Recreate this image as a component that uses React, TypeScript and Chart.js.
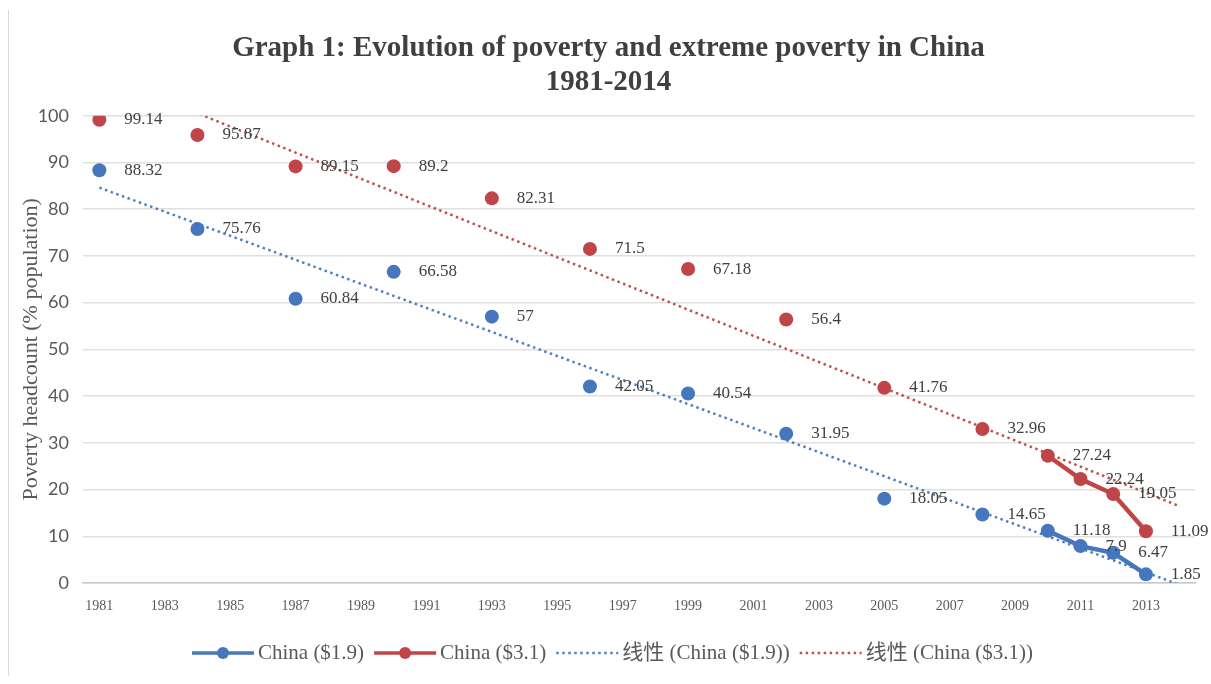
import React, { useEffect, useRef } from "react";
import { Chart, registerables } from "chart.js";

Chart.register(...registerables);

// ---- Data ----
const YEARS = [1981, 1984, 1987, 1990, 1993, 1996, 1999, 2002, 2005, 2008, 2010, 2011, 2012, 2013];
const POVERTY_190 = [88.32, 75.76, 60.84, 66.58, 57, 42.05, 40.54, 31.95, 18.05, 14.65, 11.18, 7.9, 6.47, 1.85];
const POVERTY_310 = [99.14, 95.87, 89.15, 89.2, 82.31, 71.5, 67.18, 56.4, 41.76, 32.96, 27.24, 22.24, 19.05, 11.09];
const TREND_YEARS = [1981, 2014];
const TREND_190 = [84.6, -0.3];
const TREND_310 = [108.9, 16.5];
const X_TICKS = [1981, 1983, 1985, 1987, 1989, 1991, 1993, 1995, 1997, 1999, 2001, 2003, 2005, 2007, 2009, 2011, 2013];
const SERIES_LABELS = ["China ($1.9)", "China ($3.1)", "线性 (China ($1.9))", "线性 (China ($3.1))"];
const TITLE_LINES = ["Graph 1: Evolution of poverty and extreme poverty in China", "1981-2014"];
const Y_TITLE = "Poverty headcount (% population)";

const BLUE = "#4677BC";
const RED = "#C04549";
const BLUE_TREND = "#4F81BD";
const RED_TREND = "#C0504D";
const SERIF = "'Liberation Serif', 'Noto Sans CJK SC', serif";
const SANS = "Lato, 'Open Sans', 'Liberation Sans', sans-serif";

Chart.defaults.font.family = SERIF;

const valueLabels = {
  id: "valueLabels",
  afterDatasetsDraw(chart: any) {
    const ctx = chart.ctx;
    ctx.save();
    ctx.font = `17px ${SERIF}`;
    ctx.fillStyle = "#404040";
    ctx.textAlign = "left";
    ctx.textBaseline = "middle";
    [POVERTY_190, POVERTY_310].forEach((vals, di) => {
      const meta = chart.getDatasetMeta(di);
      meta.data.forEach((pt: any, i: number) => {
        ctx.fillText(String(vals[i]), pt.x + 25, pt.y);
      });
    });
    ctx.restore();
  },
};

// Excel-like legend: line-with-marker and dotted-line keys, drawn below the axis
const excelLegend = {
  id: "excelLegend",
  afterDraw(chart: any) {
    const ctx = chart.ctx;
    const iconW = 62;
    const iconGap = 4;
    const itemGap = 10;
    const y = chart.height - 23;
    ctx.save();
    ctx.font = `21px ${SERIF}`;
    ctx.textBaseline = "middle";
    ctx.textAlign = "left";
    const widths = SERIES_LABELS.map((t) => ctx.measureText(t).width);
    const total =
      widths.reduce((a, b) => a + b, 0) +
      SERIES_LABELS.length * (iconW + iconGap) +
      (SERIES_LABELS.length - 1) * itemGap;
    let x = chart.width / 2 + 3 - total / 2;
    SERIES_LABELS.forEach((label, i) => {
      const ds = chart.data.datasets[i];
      const color = ds.borderColor;
      if (i < 2) {
        ctx.strokeStyle = color;
        ctx.lineWidth = 3.5;
        ctx.beginPath();
        ctx.moveTo(x, y);
        ctx.lineTo(x + iconW, y);
        ctx.stroke();
        ctx.fillStyle = color;
        ctx.beginPath();
        ctx.arc(x + iconW / 2, y, 6, 0, Math.PI * 2);
        ctx.fill();
      } else {
        ctx.strokeStyle = color;
        ctx.lineWidth = 2.5;
        ctx.setLineDash([2.5, 3.5]);
        ctx.beginPath();
        ctx.moveTo(x, y);
        ctx.lineTo(x + iconW, y);
        ctx.stroke();
        ctx.setLineDash([]);
      }
      x += iconW + iconGap;
      ctx.fillStyle = "#595959";
      ctx.fillText(label, x, y);
      x += widths[i] + itemGap;
    });
    ctx.restore();
  },
};

export default function App() {
  const canvasRef = useRef<HTMLCanvasElement | null>(null);

  useEffect(() => {
    document.body.style.margin = "0";
    if (!canvasRef.current) return;
    const gapSegment = (color: string) => (ctx: any) =>
      ctx.p1.parsed.x - ctx.p0.parsed.x > 1 ? "rgba(0,0,0,0)" : color;

    const chart = new Chart(canvasRef.current, {
      type: "line",
      data: {
        datasets: [
          {
            label: SERIES_LABELS[0],
            data: YEARS.map((x, i) => ({ x, y: POVERTY_190[i] })),
            borderColor: BLUE,
            backgroundColor: BLUE,
            borderWidth: 4.5,
            pointRadius: 7,
            pointBackgroundColor: BLUE,
            pointBorderColor: BLUE,
            pointBorderWidth: 0,
            segment: { borderColor: gapSegment(BLUE) },
          },
          {
            label: SERIES_LABELS[1],
            data: YEARS.map((x, i) => ({ x, y: POVERTY_310[i] })),
            borderColor: RED,
            backgroundColor: RED,
            borderWidth: 4.5,
            pointRadius: 7,
            pointBackgroundColor: RED,
            pointBorderColor: RED,
            pointBorderWidth: 0,
            segment: { borderColor: gapSegment(RED) },
          },
          {
            label: SERIES_LABELS[2],
            data: TREND_YEARS.map((x, i) => ({ x, y: TREND_190[i] })),
            borderColor: BLUE_TREND,
            borderWidth: 2.5,
            borderDash: [2.5, 3.5],
            pointRadius: 0,
          },
          {
            label: SERIES_LABELS[3],
            data: TREND_YEARS.map((x, i) => ({ x, y: TREND_310[i] })),
            borderColor: RED_TREND,
            borderWidth: 2.5,
            borderDash: [2.5, 3.5],
            pointRadius: 0,
          },
        ],
      },
      options: {
        animation: false,
        responsive: true,
        maintainAspectRatio: false,
        layout: { padding: { left: 14, right: 16, top: 0, bottom: 41 } },
        scales: {
          x: {
            type: "linear",
            min: 1980.5,
            max: 2014.5,
            afterBuildTicks: (scale: any) => {
              scale.ticks = X_TICKS.map((v) => ({ value: v }));
            },
            afterFit: (scale: any) => {
              scale.height = 52;
            },
            ticks: {
              autoSkip: false,
              maxRotation: 0,
              padding: 15,
              color: "#595959",
              font: { family: SERIF, size: 14 },
              callback: (v: any) => String(v),
            },
            grid: { display: false, drawTicks: false },
            border: { display: true, color: "#c8c8c8", width: 1.5 },
          },
          y: {
            min: 0,
            max: 100,
            afterFit: (scale: any) => {
              scale.width = 61;
            },
            ticks: {
              stepSize: 10,
              padding: 14,
              color: "#595959",
              font: { family: SANS, size: 18 },
            },
            grid: { color: "#e0e0e0", lineWidth: 1.5, drawTicks: false },
            border: { display: false },
            title: {
              display: true,
              text: Y_TITLE,
              color: "#595959",
              font: { family: SERIF, size: 22, lineHeight: 0.8 },
              padding: { top: 0, bottom: 0 },
            },
          },
        },
        plugins: {
          title: {
            display: true,
            text: TITLE_LINES,
            color: "#404040",
            font: { family: SERIF, size: 29, weight: "bold", lineHeight: 1.15 },
            padding: { top: 24, bottom: 17 },
          },
          legend: { display: false },
          tooltip: { enabled: false },
        },
      },
      plugins: [valueLabels, excelLegend],
    } as any);
    return () => chart.destroy();
  }, []);

  return (
    <div style={{ position: "relative", width: 1203, height: 668, marginLeft: 8, paddingTop: 8 }}>
      <div
        style={{
          position: "absolute",
          left: 0,
          top: 10,
          bottom: 0,
          width: 1,
          background: "#d9d9d9",
        }}
      />
      <div style={{ position: "relative", width: 1203, height: 668 }}>
        <canvas ref={canvasRef} />
      </div>
    </div>
  );
}
